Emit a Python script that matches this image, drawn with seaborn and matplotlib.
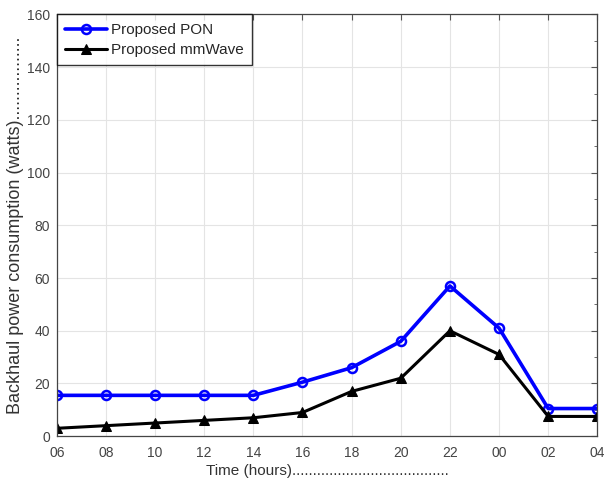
import pandas as pd
import matplotlib
matplotlib.use("Agg")
import matplotlib.pyplot as plt
import seaborn as sns
from matplotlib.ticker import MultipleLocator

hours = ["06", "08", "10", "12", "14", "16", "18", "20", "22", "00", "02", "04"]
pon_watts = [15.5, 15.5, 15.5, 15.5, 15.5, 20.5, 26, 36, 57, 41, 10.5, 10.5]
mmwave_watts = [3, 4, 5, 6, 7, 9, 17, 22, 40, 31, 7.5, 7.5]

df = pd.DataFrame({"hour": hours, "PON": pon_watts, "mmWave": mmwave_watts})

sns.set_style("white")
plt.rcParams['font.family'] = ['Liberation Sans', 'DejaVu Sans']

fig = plt.figure(figsize=(6.04, 4.82), dpi=100)
ax = fig.add_axes([0.094, 0.095, 0.895, 0.875])

sns.lineplot(data=df, x="hour", y="PON", ax=ax, sort=False, color="#0000ff",
             linewidth=2.6, marker="o", markersize=6.5, markerfacecolor="none",
             markeredgecolor="#0000ff", markeredgewidth=1.8, label="Proposed PON")
sns.lineplot(data=df, x="hour", y="mmWave", ax=ax, sort=False, color="black",
             linewidth=2.2, marker="^", markersize=6.5, markeredgecolor="black",
             label="Proposed mmWave")

ax.set_xlim(0, len(hours) - 1)
ax.set_ylim(0, 160)
ax.yaxis.set_major_locator(MultipleLocator(20))
ax.yaxis.set_minor_locator(MultipleLocator(10))
ax.grid(True, which="major", color="#e4e4e4", linewidth=0.8)
ax.tick_params(which="both", direction="in", top=True, right=True,
               colors="#555555", labelcolor="#444444", labelsize=10)
ax.tick_params(which="major", length=4)
ax.tick_params(which="minor", length=2)
ax.tick_params(axis="x", pad=7)
ax.tick_params(axis="y", pad=5)
for sp in ax.spines.values():
    sp.set_color("#444444")
    sp.set_linewidth(0.9)

ax.set_xlabel("Time (hours)" + "." * 38, fontsize=11, color="#333333", labelpad=3)
ax.set_ylabel("Backhaul power consumption (watts)" + "." * 17, fontsize=13,
              color="#333333", labelpad=2)

leg = ax.legend(loc="upper left", fontsize=11, frameon=True, fancybox=False,
                borderaxespad=0, handlelength=2.75, handletextpad=0.25,
                labelspacing=0.4, borderpad=0.55)
leg.get_frame().set_edgecolor("black")
leg.get_frame().set_linewidth(1.0)

fig.savefig("out.png", dpi=100)
